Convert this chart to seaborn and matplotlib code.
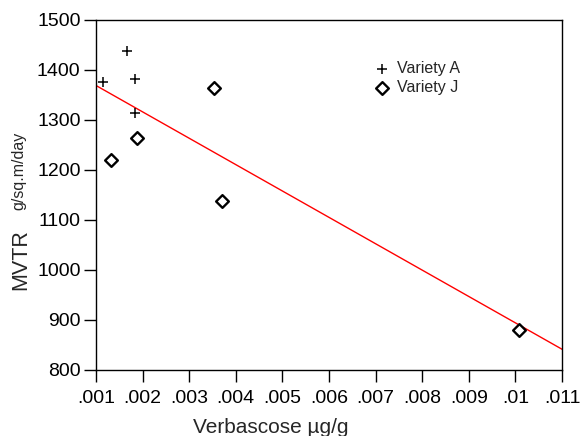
import matplotlib
matplotlib.use("Agg")
import matplotlib.pyplot as plt
import seaborn as sns
import pandas as pd
import numpy as np

# Data
variety_a_x = [0.00116, 0.00167, 0.00184, 0.00184]
variety_a_y = [1375, 1437, 1382, 1313]
variety_j_x = [0.00132, 0.00189, 0.00353, 0.00370, 0.01008]
variety_j_y = [1219, 1263, 1364, 1138, 879]

x_ticks = [0.001, 0.002, 0.003, 0.004, 0.005, 0.006, 0.007, 0.008, 0.009, 0.010, 0.011]
x_tick_labels = [".001", ".002", ".003", ".004", ".005", ".006", ".007", ".008", ".009", ".01", ".011"]
y_ticks = [800, 900, 1000, 1100, 1200, 1300, 1400, 1500]

df_a = pd.DataFrame({"x": variety_a_x, "y": variety_a_y, "Variety": "Variety A"})
df_j = pd.DataFrame({"x": variety_j_x, "y": variety_j_y, "Variety": "Variety J"})
df_all = pd.concat([df_a, df_j], ignore_index=True)

sns.set_style("ticks")
plt.rcParams["font.family"] = ["Liberation Sans", "DejaVu Sans"]

W, H = 580, 436
fig = plt.figure(figsize=(W / 100, H / 100), dpi=100)
ax = fig.add_axes([96 / W, 1 - 370 / H, (562 - 96) / W, (370 - 20) / H])

sns.regplot(data=df_all, x="x", y="y", scatter=False, ci=None, truncate=False,
            color="red", line_kws={"linewidth": 1}, ax=ax)

sns.scatterplot(data=df_a, x="x", y="y", marker="+", s=55, color="black",
                linewidth=1.1, ax=ax, label="Variety A", zorder=3)
sns.scatterplot(data=df_j, x="x", y="y", marker="D", s=42, facecolor="white",
                edgecolor="black", linewidth=1.7, ax=ax, label="Variety J", zorder=3)

ax.set_xlim(0.001, 0.011)
ax.set_ylim(800, 1500)
ax.set_xticks(x_ticks)
ax.set_xticklabels(x_tick_labels)
ax.set_yticks(y_ticks)
ax.tick_params(axis="both", direction="out", length=8.6, width=1, colors="black",
               labelsize=14)
ax.tick_params(axis="x", pad=5.5)
ax.tick_params(axis="y", pad=2.5)
for sp in ax.spines.values():
    sp.set_visible(True)
    sp.set_color("black")
    sp.set_linewidth(1)

ax.set_xlabel("")
ax.set_ylabel("")
fig.text(270.5 / W, 1 - 433 / H, "Verbascose \u00b5g/g", ha="center", va="baseline", fontsize=15)
fig.text(21 / W, 1 - 260 / H, "MVTR", rotation=90, ha="center", va="center", fontsize=15.5)
fig.text(18.5 / W, 1 - 171 / H, "g/sq.m/day", rotation=90, ha="center", va="center", fontsize=11.5)

leg = ax.legend(loc="center left", bbox_to_anchor=(374 / W, 1 - 78.3 / H),
                bbox_transform=fig.transFigure,
                frameon=False, fontsize=11.5, handletextpad=0.45, borderaxespad=0,
                borderpad=0, labelspacing=0.25, handlelength=1.0)

fig.savefig("out.png", dpi=100)
